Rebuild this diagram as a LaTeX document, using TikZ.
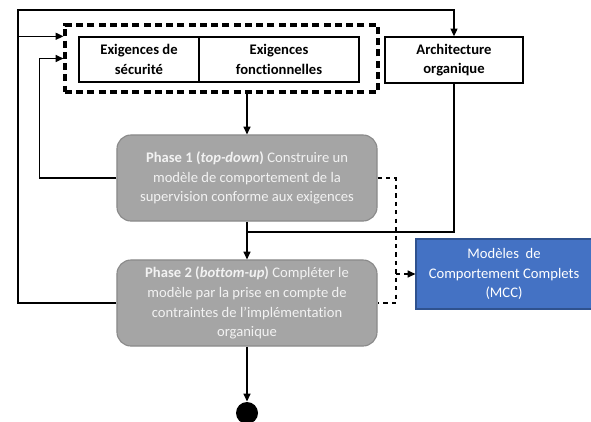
\documentclass[tikz,border=0pt]{standalone}
\usepackage{fontspec}
\setmainfont{Carlito}[Ligatures=NoCommon]
\usetikzlibrary{arrows.meta}

\definecolor{phasegray}{HTML}{A5A5A5}
\definecolor{phaseline}{HTML}{8A8A8A}
\definecolor{mccblue}{HTML}{4472C4}
\definecolor{mccline}{HTML}{2F528F}

\begin{document}
\begin{tikzpicture}[x=0.025cm, y=-0.025cm,
    font=\fontsize{10.4}{14}\selectfont,
    line width=0.8pt,
    >={Triangle[length=5.5pt,width=5pt]},
    reqbox/.style={draw, line width=1pt, font=\fontsize{10.4}{14}\selectfont\bfseries,
        align=center, minimum height=1.125cm, inner sep=2pt},
    phasebox/.style={draw=phaseline, fill=phasegray, rounded corners=10pt,
        text=white!95!black, align=center, minimum width=6.5cm, minimum height=2.15cm},
    mccbox/.style={draw=mccline, fill=mccblue, text=white, align=center,
        minimum width=4.4cm, minimum height=1.75cm}]

    \useasboundingbox (0,0) rectangle (591,421);

    % Requirements
    \node[draw, dashed, line width=2.2pt, dash pattern=on 5pt off 3pt,
          minimum width=7.825cm, minimum height=1.675cm] (exig) at (221.5,58.5) {};
    \node[reqbox, minimum width=3cm] (secu) at (139,59.5) {Exigences de\\sécurité};
    \node[reqbox, minimum width=4cm] (fonct) at (279,59.5) {Exigences\\fonctionnelles};
    \node[reqbox, minimum width=3.45cm, minimum height=1.15cm] (archi) at (454,60)
        {Architecture\\organique};

    % Phases
    \node[phasebox] (phase1) at (247,178)
        {\textbf{Phase 1 (\textit{top-down})} Construire un\\
         modèle de comportement de la\\
         supervision conforme aux exigences};
    \node[phasebox] (phase2) at (247,303)
        {\textbf{Phase 2 (\textit{bottom-up})} Compléter le\\
         modèle par la prise en compte de\\
         contraintes de l’implémentation\\
         organique};

    % Result and end
    \node[mccbox] (mcc) at (504,274) {Modèles~ de\\Comportement Complets\\(MCC)};
    \node[circle, fill=black, minimum size=0.55cm, inner sep=0pt] (fin) at (247,413) {};

    \coordinate (loop) at (18,10);
    \coordinate (join) at (247,232);
    \coordinate (split) at (396,274);

    % Feedback loops
    \draw[->] (phase2.west) -| (loop) -| (archi.north);
    \draw[->] (loop |- secu.north) -- (exig.west |- secu.north);
    \draw[->] (phase1.west) -- ++(-77,0) |- (exig.west);

    % Main flow
    \draw[->] (phase1.north |- exig.south) -- (phase1.north);
    \draw (archi.south) |- (join);
    \draw[->] (phase1.south) -- (phase2.north);
    \draw[->] (phase2.south) -- (fin.north);

    % Models
    \draw[dashed] (phase1.east) -| (split) |- (phase2.east);
    \draw[dashed, ->] (split) -- (mcc.west);

\end{tikzpicture}
\end{document}
